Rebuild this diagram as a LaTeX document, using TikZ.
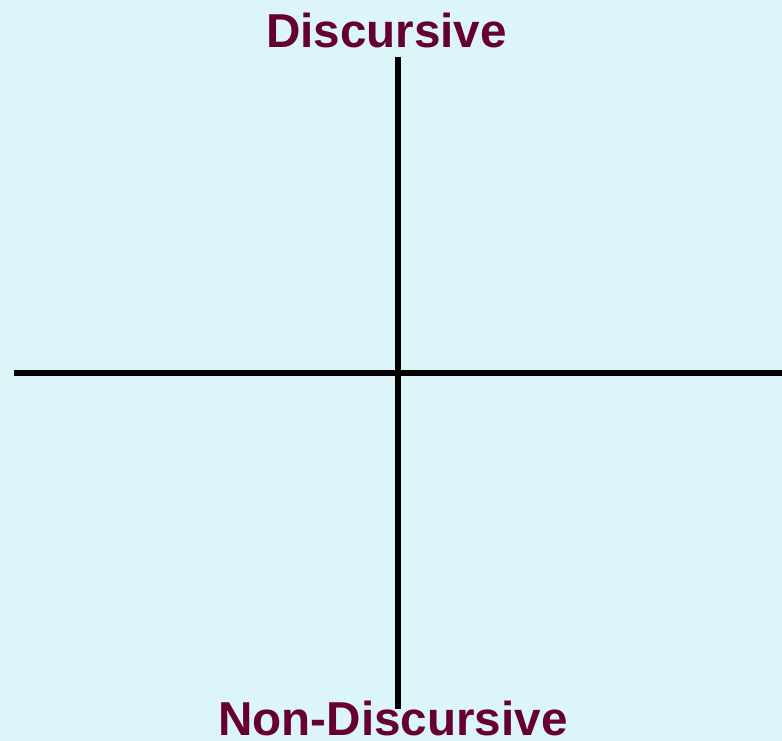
\documentclass[tikz,border=0pt]{standalone}
\usepackage{fontspec}
\setmainfont{Liberation Sans}
\usepackage{xcolor}
\usetikzlibrary{positioning}
\definecolor{qbg}{RGB}{220,245,248}
\definecolor{qlabel}{RGB}{102,0,51}
\tikzset{
  axis/.style={line width=6pt, black},
  polelabel/.style={anchor=base, inner sep=0pt, text=qlabel, font=\fontsize{47.6}{50}\selectfont\bfseries}
}

\begin{document}
\begin{tikzpicture}[x=1pt, y=-1pt]
    \fill[qbg] (0,0) rectangle (782,741);
    \useasboundingbox (0,0) rectangle (782,741);
    \coordinate (top) at (398,57);
    \coordinate (bottom) at (398,709);
    \coordinate (left) at (14,372.5);
    \coordinate (right) at (782,372.5);
    \draw[axis] (left) -- (right);
    \draw[axis] (top) -- (bottom);
    \node[polelabel] (disc) at (386.5,48) {Discursive};
    \node[polelabel] (nondisc) at (393,735) {Non-Discursive};
  \end{tikzpicture}
\end{document}
